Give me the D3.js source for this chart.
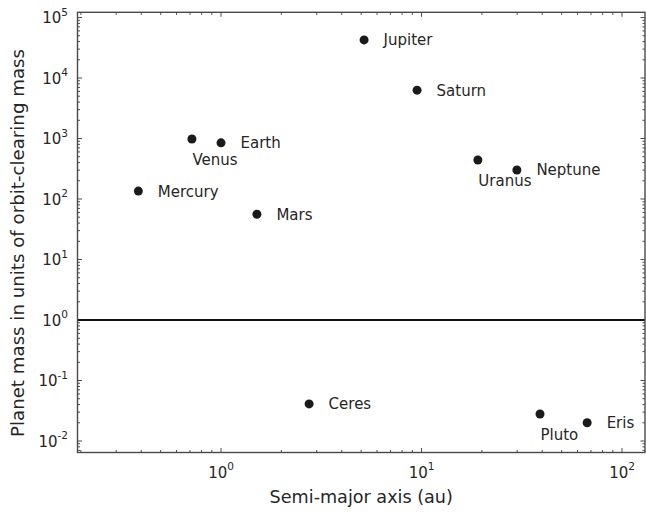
<!DOCTYPE html>
<html><head><meta charset="utf-8">
<script src="https://cdn.jsdelivr.net/npm/d3@7/dist/d3.min.js"></script>
<style>body{margin:0;background:#fff}svg{display:block}text{font-family:"DejaVu Sans",sans-serif}</style>
</head><body><svg id="c" width="646" height="514"></svg>
<script>
const names = ["Mercury","Venus","Earth","Mars","Jupiter","Saturn","Uranus","Neptune","Ceres","Pluto","Eris"];
const semiMajor = [0.387,0.716,1.0,1.51,5.17,9.5,19.1,29.9,2.75,39.0,67.0];
const massRatio = [135,980,847,56,42600,6300,442,302,0.041,0.028,0.020];
const belowLabels = ["Venus","Uranus","Pluto"];
const xTickExps = [0,1,2];
const yTickExps = [-2,-1,0,1,2,3,4,5];

const svg = d3.select("#c");
const L=77.5, R=645, T=12.3, B=452.5;
const x = d3.scaleLog().domain([0.1924,130.2]).range([L,R]);
const y = d3.scaleLog().domain([Math.pow(10,-2.19),Math.pow(10,5.086)]).range([B,T]);
const frameCol="#4a4a4a", txtCol="#262626";

function logTicks(dom){
  const lo=Math.floor(Math.log10(dom[0])), hi=Math.ceil(Math.log10(dom[1]));
  const maj=[],min=[];
  for(let e=lo;e<=hi;e++){ for(let k=1;k<10;k++){ const v=k*Math.pow(10,e); if(v<dom[0]||v>dom[1]) continue; (k===1?maj:min).push(v);} }
  return {maj,min};
}
const xt=logTicks(x.domain()), yt=logTicks(y.domain());
const g=svg.append("g");
xt.maj.forEach(v=>{const p=x(v); g.append("line").attr("x1",p).attr("x2",p).attr("y1",B).attr("y2",B-4.5).attr("stroke",frameCol);
  g.append("line").attr("x1",p).attr("x2",p).attr("y1",T).attr("y2",T+4.5).attr("stroke",frameCol);});
xt.min.forEach(v=>{const p=x(v); g.append("line").attr("x1",p).attr("x2",p).attr("y1",B).attr("y2",B-2.5).attr("stroke",frameCol);
  g.append("line").attr("x1",p).attr("x2",p).attr("y1",T).attr("y2",T+2.5).attr("stroke",frameCol);});
yt.maj.forEach(v=>{const p=y(v); g.append("line").attr("y1",p).attr("y2",p).attr("x1",L).attr("x2",L+4.5).attr("stroke",frameCol);
  g.append("line").attr("y1",p).attr("y2",p).attr("x1",R).attr("x2",R-4.5).attr("stroke",frameCol);});
yt.min.forEach(v=>{const p=y(v); g.append("line").attr("y1",p).attr("y2",p).attr("x1",L).attr("x2",L+2.5).attr("stroke",frameCol);
  g.append("line").attr("y1",p).attr("y2",p).attr("x1",R).attr("x2",R-2.5).attr("stroke",frameCol);});

svg.append("line").attr("x1",L).attr("x2",R).attr("y1",y(1)).attr("y2",y(1)).attr("stroke","#111").attr("stroke-width",2.2);

svg.append("rect").attr("x",L).attr("y",T).attr("width",R-L).attr("height",B-T).attr("fill","none").attr("stroke",frameCol).attr("stroke-width",1.4);

xTickExps.forEach(e=>{
  const t=svg.append("text").attr("x",x(Math.pow(10,e))).attr("y",477.5).attr("text-anchor","middle").attr("fill",txtCol).attr("font-size",15);
  t.append("tspan").text("10");
  t.append("tspan").attr("dy",-7.5).attr("font-size",10.5).text(e);
});
yTickExps.forEach(e=>{
  const t=svg.append("text").attr("x",68).attr("y",y(Math.pow(10,e))+5.5).attr("text-anchor","end").attr("fill",txtCol).attr("font-size",15);
  t.append("tspan").text("10");
  t.append("tspan").attr("dy",-7.5).attr("font-size",10.5).text(e);
});

svg.append("text").attr("x",(L+R)/2).attr("y",503).attr("text-anchor","middle").attr("fill",txtCol).attr("font-size",17.6).text("Semi-major axis (au)");
svg.append("text").attr("transform",`translate(23.5,243) rotate(-90)`).attr("text-anchor","middle").attr("fill",txtCol).attr("font-size",18.2).text("Planet mass in units of orbit-clearing mass");

const data = names.map((n,i)=>({n,a:semiMajor[i],m:massRatio[i]}));
svg.selectAll("circle.pt").data(data).join("circle").attr("class","pt")
  .attr("cx",d=>x(d.a)).attr("cy",d=>y(d.m)).attr("r",4.5).attr("fill","#1a1a1a");
svg.selectAll("text.lbl").data(data).join("text").attr("class","lbl")
  .attr("x",d=>belowLabels.includes(d.n)? x(d.a)+0.5 : x(d.a)+19.5)
  .attr("y",d=>belowLabels.includes(d.n)? y(d.m)+20.5 : y(d.m))
  .attr("dy","0.36em").attr("font-size",15).attr("fill",txtCol).text(d=>d.n);
</script></body></html>
